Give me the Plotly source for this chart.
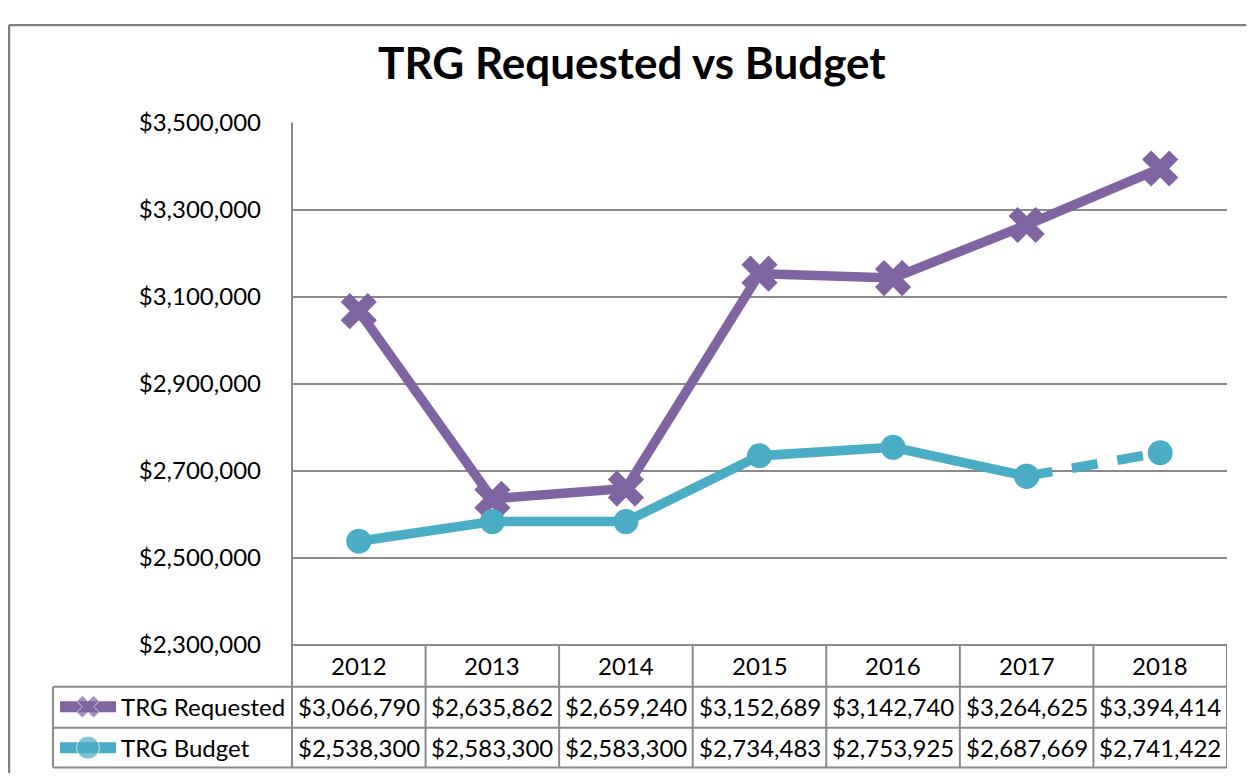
import plotly.graph_objects as go

years = ["2012", "2013", "2014", "2015", "2016", "2017", "2018"]
requested = [3066790, 2635862, 2659240, 3152689, 3142740, 3264625, 3394414]
budget = [2538300, 2583300, 2583300, 2734483, 2753925, 2687669, 2741422]
series_names = ["TRG Requested", "TRG Budget"]
y_ticks = [2300000, 2500000, 2700000, 2900000, 3100000, 3300000, 3500000]

W, H = 1254, 778
# observed mapping of figure px -> screenshot px (page offset and vertical scale)
X_OFF = 8
Y_A, Y_B = 22.2, 0.9656


def fx(x):  # target screen px -> figure px
    return x - X_OFF


def fy(y):
    return (y - Y_A) / Y_B


def py(p):  # target screen row -> paper fraction
    return 1 - fy(p) / H


PX_L, PX_R, PX_T, PX_B = 292, 1227, 121, 645
PURPLE = "#8064A2"
TEAL = "#4BACC6"
GRID = "#8a8a8a"
FONT = "Lato"

fig = go.Figure()

fig.add_trace(go.Scatter(x=years, y=requested, mode="lines+markers", name=series_names[0],
                         line=dict(color=PURPLE, width=9.5),
                         marker=dict(symbol="x", size=32, color=PURPLE),
                         xaxis="x", yaxis="y", cliponaxis=False))
fig.add_trace(go.Scatter(x=years[:6], y=budget[:6], mode="lines+markers", name=series_names[1],
                         line=dict(color=TEAL, width=9.5),
                         marker=dict(symbol="circle", size=25, color=TEAL),
                         xaxis="x", yaxis="y", cliponaxis=False))
fig.add_trace(go.Scatter(x=years[5:], y=budget[5:], mode="lines+markers", showlegend=False,
                         line=dict(color=TEAL, width=9.5, dash="26px,20px"),
                         marker=dict(symbol="circle", size=25, color=TEAL),
                         xaxis="x", yaxis="y", cliponaxis=False))

row_y = [707, 748]
key_styles = [(PURPLE, "x", 20), (TEAL, "circle", 23)]
for (col, sym, sz), ry in zip(key_styles, row_y):
    fig.add_trace(go.Scatter(x=[fx(60), fx(88), fx(116)], y=[fy(ry)] * 3, mode="lines+markers",
                             line=dict(color=col, width=11),
                             marker=dict(symbol=sym, size=[0, sz, 0], color=col),
                             xaxis="x2", yaxis="y2", showlegend=False, cliponaxis=False,
                             hoverinfo="skip"))

shapes = []
ln = dict(color=GRID, width=2)
bd = dict(color="#808080", width=2.5)
top_y = max(fy(9), 1)
shapes.append(dict(type="line", xref="x2", yref="y2", x0=fx(9), x1=W + 5, y0=top_y, y1=top_y, line=bd))
shapes.append(dict(type="line", xref="x2", yref="y2", x0=fx(9), x1=fx(9), y0=top_y, y1=H + 5, line=bd))
shapes.append(dict(type="line", xref="x2", yref="y2", x0=fx(PX_L), x1=fx(PX_L), y0=fy(PX_T), y1=fy(768), line=ln))
shapes.append(dict(type="line", xref="x2", yref="y2", x0=fx(PX_L), x1=fx(PX_R), y0=fy(PX_B), y1=fy(PX_B), line=ln))
for yy in [687, 728, 768]:
    shapes.append(dict(type="line", xref="x2", yref="y2", x0=fx(53), x1=fx(PX_R), y0=fy(yy), y1=fy(yy), line=ln))
shapes.append(dict(type="line", xref="x2", yref="y2", x0=fx(53), x1=fx(53), y0=fy(687), y1=fy(768), line=ln))
for i in range(len(years)):
    shapes.append(dict(type="line", xref="x", yref="y2", x0=i + 0.5, x1=i + 0.5,
                       y0=fy(PX_B), y1=fy(768), line=ln))

annotations = []
tf = dict(family=FONT, size=24, color="#000000")
for i, yr in enumerate(years):
    annotations.append(dict(x=i, y=py(666), xref="x", yref="paper", yanchor="middle",
                            text=yr, showarrow=False, font=tf))
for vals, ry in zip([requested, budget], row_y):
    for i, v in enumerate(vals):
        annotations.append(dict(x=i, y=py(ry), xref="x", yref="paper", yanchor="middle",
                                text=f"${v:,.0f}", showarrow=False, font=tf))
for name, ry in zip(series_names, row_y):
    annotations.append(dict(x=fx(119), y=fy(ry), xref="x2", yref="y2", text=name, showarrow=False,
                            xanchor="left", yanchor="middle", font=tf))
annotations.append(dict(x=fx(632), y=fy(60), xref="x2", yref="y2",
                        text="<b>TRG Requested vs Budget</b>", yanchor="middle",
                        showarrow=False, font=dict(family=FONT, size=44, color="#000000")))

fig.update_layout(
    width=W, height=H,
    margin=dict(l=0, r=0, t=0, b=0),
    paper_bgcolor="white", plot_bgcolor="rgba(0,0,0,0)",
    showlegend=False,
    xaxis=dict(type="category", range=[-0.5, 6.5], domain=[fx(PX_L) / W, fx(PX_R) / W],
               showticklabels=False, showgrid=False, zeroline=False, showline=False,
               anchor="y", fixedrange=True),
    yaxis=dict(range=[y_ticks[0], y_ticks[-1]], domain=[py(PX_B), py(PX_T)],
               tickvals=y_ticks, tickformat="$,.0f", showgrid=True, gridcolor=GRID, gridwidth=2,
               zeroline=False, showline=False, ticks="", ticklabelstandoff=30,
               tickfont=dict(family=FONT, size=24, color="#000000"), anchor="x", fixedrange=True),
    xaxis2=dict(range=[0, W], domain=[0, 1], visible=False, anchor="y2", fixedrange=True),
    yaxis2=dict(range=[H, 0], domain=[0, 1], visible=False, anchor="x2", fixedrange=True),
    shapes=shapes,
    annotations=annotations,
)

fig.write_html("out.html")
